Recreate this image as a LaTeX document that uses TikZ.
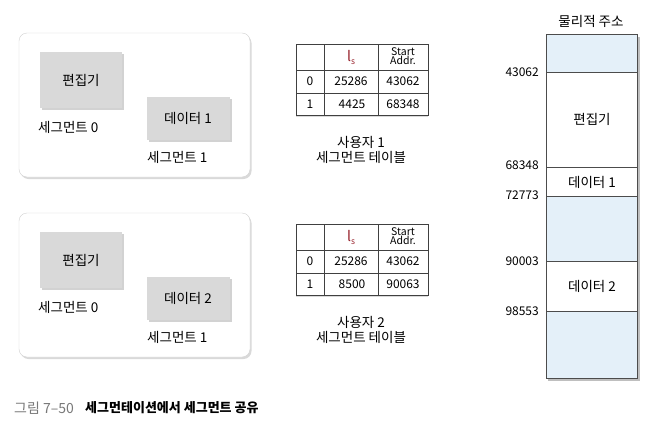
\documentclass[tikz,border=0pt]{standalone}
\usepackage{fontspec}
\setmainfont{Noto Sans CJK KR}
\usepackage{xcolor}
\usetikzlibrary{positioning, shadows}

\definecolor{memblue}{RGB}{228,240,249}
\definecolor{lsred}{RGB}{150,30,40}
\definecolor{capgray}{RGB}{120,120,120}

\begin{document}
\begin{tikzpicture}[x=1pt, y=-1pt,
  txt/.style={font=\fontsize{13.5}{14}\selectfont, inner sep=0pt, align=center},
  num/.style={font=\fontsize{12}{13}\selectfont, inner sep=0pt},
  small/.style={font=\fontsize{10.5}{9.5}\selectfont, inner sep=0pt, align=center},
  userbox/.style={draw=gray!35, fill=white, rounded corners=8pt,
    drop shadow={shadow xshift=1.5pt, shadow yshift=-2pt, opacity=0.3}},
  segbox/.style={fill=black!15,
    drop shadow={shadow xshift=1.5pt, shadow yshift=-1.5pt, opacity=0.35}},
  tblbox/.style={draw=black!75, line width=0.7pt, fill=white,
    drop shadow={shadow xshift=0pt, shadow yshift=-2pt, opacity=0.3}},
  tblline/.style={draw=black!75, line width=0.7pt},
  memline/.style={draw=black!70, line width=0.7pt}]
  \useasboundingbox (0,0) rectangle (655,423);

  % user 1 process
  \draw[userbox] (19,33) rectangle (250,177);
  \fill[segbox] (40,52) rectangle (122,108);
  \node[txt] (ed1) at (81,80) {편집기};
  \fill[segbox] (147,97) rectangle (230,140);
  \node[txt] (dat1) at (188,118) {데이터 1};
  \node[txt, anchor=west] (seg01) at (38,127) {세그먼트 0};
  \node[txt, anchor=west] (seg11) at (147,157) {세그먼트 1};

  % user 2 process
  \draw[userbox] (19,213) rectangle (250,357);
  \fill[segbox] (40,232) rectangle (122,288);
  \node[txt] (ed2) at (81,260) {편집기};
  \fill[segbox] (147,277) rectangle (230,320);
  \node[txt] (dat2) at (188,298) {데이터 2};
  \node[txt, anchor=west] (seg02) at (38,307) {세그먼트 0};
  \node[txt, anchor=west] (seg12) at (147,337) {세그먼트 1};

  % segment table 1 -- rows 44/70/93/115, cols 296/324/378/428
  \draw[tblbox] (296,44) rectangle (428,115);
  \draw[tblline] (296,70) -- (428,70) (296,93) -- (428,93);
  \draw[tblline] (324,44) -- (324,115) (378,44) -- (378,115);
  \node[font=\fontsize{14}{14}\selectfont, inner sep=0pt, text=lsred] (ls1) at (351,57) {l\raisebox{-3pt}{\fontsize{8.5}{8}\selectfont s}};
  \node[small] (sa1) at (403,56) {Start\\Addr.};
  \node[num] (r0a) at (310,81.5) {0};
  \node[num] (r0b) at (351,81.5) {25286};
  \node[num] (r0c) at (403,81.5) {43062};
  \node[num] (r1a) at (310,104) {1};
  \node[num] (r1b) at (352,104) {4425};
  \node[num] (r1c) at (403,104) {68348};
  \node[txt] (cap1a) at (361,142) {사용자 1};
  \node[txt] (cap1b) at (361,157) {세그먼트 테이블};

  % segment table 2
  \draw[tblbox] (296,224) rectangle (428,295);
  \draw[tblline] (296,250) -- (428,250) (296,273) -- (428,273);
  \draw[tblline] (324,224) -- (324,295) (378,224) -- (378,295);
  \node[font=\fontsize{14}{14}\selectfont, inner sep=0pt, text=lsred] (ls2) at (351,237) {l\raisebox{-3pt}{\fontsize{8.5}{8}\selectfont s}};
  \node[small] (sa2) at (403,236) {Start\\Addr.};
  \node[num] (s0a) at (310,261.5) {0};
  \node[num] (s0b) at (351,261.5) {25286};
  \node[num] (s0c) at (403,261.5) {43062};
  \node[num] (s1a) at (310,284) {1};
  \node[num] (s1b) at (352,284) {8500};
  \node[num] (s1c) at (403,284) {90063};
  \node[txt] (cap2a) at (361,322) {사용자 2};
  \node[txt] (cap2b) at (361,337) {세그먼트 테이블};

  % physical memory
  \node[txt] (memtitle) at (591,21) {물리적 주소};
  \fill[black!25] (548,37) rectangle (640,381);
  \fill[white] (546,34) rectangle (637,378);
  \fill[memblue] (546,34) rectangle (637,72);
  \fill[memblue] (546,196) rectangle (637,261);
  \fill[memblue] (546,311) rectangle (637,378);
  \draw[memline] (546,34) rectangle (637,378);
  \draw[memline] (546,72) -- (637,72) (546,167) -- (637,167)
    (546,196) -- (637,196) (546,261) -- (637,261) (546,311) -- (637,311);
  \node[txt] (medit) at (592,119) {편집기};
  \node[txt] (mdat1) at (592,182) {데이터 1};
  \node[txt] (mdat2) at (592,286) {데이터 2};
  \node[num, anchor=east] (a1) at (539,72) {43062};
  \node[num, anchor=east] (a2) at (539,165) {68348};
  \node[num, anchor=east] (a3) at (539,195) {72773};
  \node[num, anchor=east] (a4) at (539,261) {90003};
  \node[num, anchor=east] (a5) at (539,311) {98553};

  % figure caption
  \node[anchor=west, inner sep=0pt, text=capgray, font=\fontsize{14}{14}\selectfont] (fignum) at (14,408) {그림 7–50};
  \node[anchor=west, inner sep=0pt, font=\fontsize{13}{14}\selectfont\bfseries] (figtxt) at (85,408) {세그먼테이션에서 세그먼트 공유};
\end{tikzpicture}
\end{document}
